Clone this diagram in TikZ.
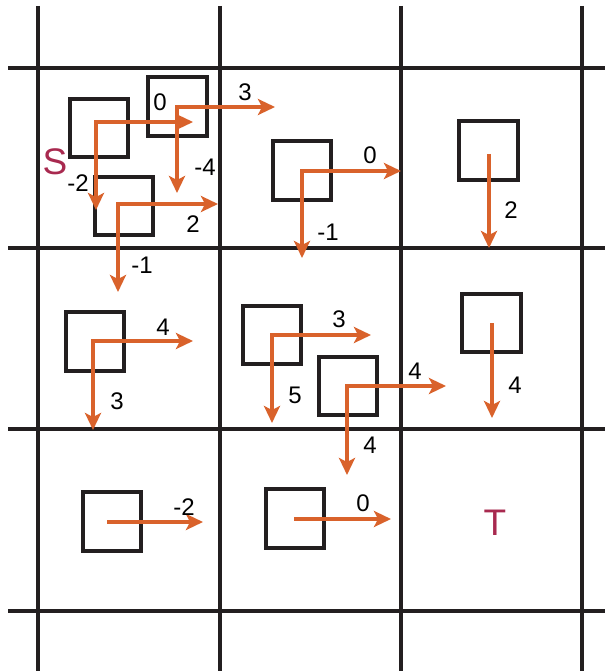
\documentclass[tikz,border=0pt]{standalone}
\usepackage{fontspec}
\setmainfont{Liberation Sans}
\usepackage{tikz}
\usetikzlibrary{arrows.meta}
\definecolor{gridline}{HTML}{231F20}
\definecolor{move}{HTML}{D9622B}
\definecolor{mark}{HTML}{A8294F}

\begin{document}
\begin{tikzpicture}[
  x=1pt, y=-1pt,
  every node/.style={font=\fontsize{24}{24}\selectfont, inner sep=0pt},
  cell/.style={draw=gridline, line width=3.8pt},
  agent/.style={
    rectangle, draw=gridline, line width=4pt, fill=none,
    minimum size=58.5pt, inner sep=0pt,
  },
  act/.style={draw=move, line width=3.3pt,
    -{Stealth[length=17pt, width=16pt, inset=4pt]}},
  act2/.style={draw=move, line width=3.3pt,
    {Stealth[length=17pt, width=16pt, inset=4pt]}-{Stealth[length=17pt, width=16pt, inset=4pt]}},
  goal/.style={font=\fontsize{37}{37}\selectfont, text=mark},
]
\useasboundingbox (0,0) rectangle (605,671);

% grid
\foreach \gx in {38,220,401,582}
  \draw[cell] (\gx,6) -- (\gx,671);
\foreach \gy in {68,248,429,611}
  \draw[cell] (8,\gy) -- (605,\gy);

% agents
\node[agent] (a) at (99,128)    {};
\node[agent] (b) at (177.5,106.5) {};
\node[agent] (c) at (124,206)   {};
\node[agent] (d) at (302,170.5) {};
\node[agent] (e) at (488.5,150.5) {};
\node[agent] (f) at (95,341.5)  {};
\node[agent] (g) at (272,335)   {};
\node[agent] (h) at (348,386)   {};
\node[agent] (i) at (491.5,323) {};
\node[agent] (j) at (112,521.5) {};
\node[agent] (k) at (295,518.5) {};

\node[goal] (s) at (55,162) {S};
\node[goal] (t) at (495,523) {T};

% arrow ends
\coordinate (a-r) at (193,122); \coordinate (a-d) at (96,210);
\coordinate (b-r) at (275,107); \coordinate (b-d) at (177,193);
\coordinate (c-r) at (218,204); \coordinate (c-d) at (118,292);
\coordinate (d-r) at (401,171); \coordinate (d-d) at (302,258);
\coordinate (e-s) at (489,154); \coordinate (e-d) at (489,248);
\coordinate (f-r) at (193,341); \coordinate (f-d) at (93,430);
\coordinate (g-r) at (371,335); \coordinate (g-d) at (272,423);
\coordinate (h-r) at (446,386); \coordinate (h-d) at (347,475);
\coordinate (i-s) at (492,323); \coordinate (i-d) at (492,418);
\coordinate (j-s) at (107,522); \coordinate (j-r) at (203,522);
\coordinate (k-s) at (294,519); \coordinate (k-r) at (391,519);

\draw[act2] (a-r) -| (a-d);
\draw[act2] (b-r) -| (b-d);
\draw[act2] (c-r) -| (c-d);
\draw[act2] (d-r) -| (d-d);
\draw[act]  (e-s) -- (e-d);
\draw[act2] (f-r) -| (f-d);
\draw[act2] (g-r) -| (g-d);
\draw[act2] (h-r) -| (h-d);
\draw[act]  (i-s) -- (i-d);
\draw[act]  (j-s) -- (j-r);
\draw[act]  (k-s) -- (k-r);

% rewards
\node (a-r-l) at (160,102) {0};
\node (a-d-l) at (78,183)  {-2};
\node (b-r-l) at (245,92)  {3};
\node (b-d-l) at (205,167) {-4};
\node (c-r-l) at (193,224) {2};
\node (c-d-l) at (142,265) {-1};
\node (d-r-l) at (370,155) {0};
\node (d-d-l) at (328,232) {-1};
\node (e-d-l) at (511,210) {2};
\node (f-r-l) at (163,327) {4};
\node (f-d-l) at (117,401) {3};
\node (g-r-l) at (339,319) {3};
\node (g-d-l) at (295,395) {5};
\node (h-r-l) at (415,371) {4};
\node (h-d-l) at (370,445) {4};
\node (i-d-l) at (515,385) {4};
\node (j-r-l) at (184,507) {-2};
\node (k-r-l) at (363,503) {0};
\end{tikzpicture}
\end{document}
